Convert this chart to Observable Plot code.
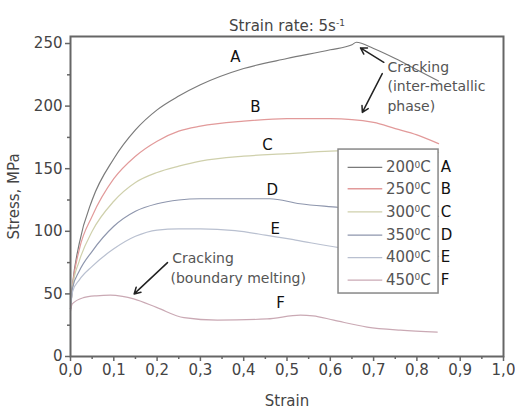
<!DOCTYPE html>
<html><head><meta charset="utf-8">
<script src="https://cdn.jsdelivr.net/npm/d3@7"></script>
<script src="https://cdn.jsdelivr.net/npm/@observablehq/plot@0.6"></script>
<style>body{margin:0;background:#fff} #chart svg{font-family:"DejaVu Sans",sans-serif}</style>
</head><body><div id="chart"></div>
<script>
// Series
const series = ["A", "B", "C", "D", "E", "F"];
const temps = ["200⁰C", "250⁰C", "300⁰C", "350⁰C", "400⁰C", "450⁰C"];
const colors = ["#7a7a7a", "#e29a9a", "#cfd0ac", "#8e96ad", "#b9c0d0", "#caa9b4"];

// Curve values (strain, stress MPa)
const strainA = [0, 0.005, 0.02, 0.05, 0.1, 0.15, 0.2, 0.25, 0.3, 0.4, 0.5, 0.6, 0.65, 0.66, 0.7, 0.75, 0.8, 0.85];
const stressA = [38, 58, 90, 125, 158, 181, 197, 208, 217, 230, 238, 245, 249, 251, 246, 238, 229, 220];
const strainB = [0, 0.005, 0.02, 0.05, 0.1, 0.15, 0.2, 0.25, 0.3, 0.4, 0.5, 0.6, 0.7, 0.75, 0.8, 0.85];
const stressB = [38, 57, 85, 112, 142, 160, 172, 180, 184, 188, 190, 190, 187, 182, 177, 170];
const strainC = [0, 0.005, 0.02, 0.05, 0.1, 0.15, 0.2, 0.25, 0.3, 0.4, 0.5, 0.6, 0.7, 0.8, 0.85];
const stressC = [38, 56, 76, 100, 124, 139, 147, 152, 156, 160, 162, 164, 165, 164, 163];
const strainD = [0, 0.005, 0.02, 0.05, 0.1, 0.15, 0.2, 0.25, 0.3, 0.4, 0.46, 0.53, 0.62, 0.7, 0.85];
const stressD = [38, 55, 68, 84, 104, 116, 122, 125, 126, 126, 126, 122, 119, 116, 112];
const strainE = [0, 0.005, 0.02, 0.05, 0.1, 0.15, 0.2, 0.25, 0.3, 0.38, 0.45, 0.52, 0.62, 0.7, 0.85];
const stressE = [38, 52, 61, 72, 86, 96, 101, 102, 102, 100.5, 97, 93, 87, 84, 80];
const strainF = [0, 0.004, 0.03, 0.06, 0.092, 0.12, 0.146, 0.2, 0.262, 0.339, 0.454, 0.531, 0.56, 0.608, 0.685, 0.762, 0.847];
const stressF = [36, 42, 47, 48.5, 49, 48, 46, 39, 31, 29, 30, 33, 32.5, 29, 23.5, 21, 19.5];

// Ticks
const majorX = [0, 0.1, 0.2, 0.3, 0.4, 0.5, 0.6, 0.7, 0.8, 0.9, 1.0];
const minorX = [0.05, 0.15, 0.25, 0.35, 0.45, 0.55, 0.65, 0.75, 0.85, 0.95];
const majorY = [0, 50, 100, 150, 200, 250];
const minorY = [25, 75, 125, 175, 225];

// Annotations (data coordinates)
const curveLabelX = [0.381, 0.427, 0.455, 0.466, 0.473, 0.485];
const curveLabelY = [239, 199, 168.5, 132.6, 101.4, 42.3];
const legendRowY = [151, 134, 115.5, 97, 79, 61];
const legendBox = {x1: 0.619, x2: 0.85, y1: 50.3, y2: 165.3};
const crack1Text = ["Cracking", "(inter-metallic", "phase)"];
const crack1Y = [231, 216, 199.5];
const crack2Text = ["Cracking", "(boundary melting)"];
const crack2X = [0.235, 0.231];
const crack2Y = [78, 62.3];
const arrows = [
  {x1: 0.7236, y1: 235, x2: 0.6697, y2: 246.5},
  {x1: 0.72, y1: 226, x2: 0.674, y2: 195},
  {x1: 0.224, y1: 75, x2: 0.147, y2: 50}
];
const titleText = "Strain rate: 5s⁻¹";

const strains = [strainA, strainB, strainC, strainD, strainE, strainF];
const stresses = [stressA, stressB, stressC, stressD, stressE, stressF];
const rows = [];
series.forEach((s, i) => strains[i].forEach((x, j) => rows.push({series: s, strain: x, stress: stresses[i][j]})));
const legendRows = series.map((s, i) => ({series: s, temp: temps[i], y: legendRowY[i]}));
const curveLabels = series.map((s, i) => ({s, x: curveLabelX[i], y: curveLabelY[i]}));

const fmt = d => d.toFixed(1).replace(".", ",");
const axisColor = "#666";

const chart = Plot.plot({
  width: 515, height: 409,
  marginLeft: 70, marginRight: 12, marginTop: 36, marginBottom: 53,
  style: {fontFamily: "DejaVu Sans", fontSize: "15px", color: "#444", background: "#fff"},
  x: {domain: [0, 1]},
  y: {domain: [0, 255.6]},
  color: {domain: series, range: colors},
  marks: [
    Plot.axisX(minorX, {tickSize: 3, tickFormat: () => "", label: null, stroke: axisColor, strokeWidth: 1.5}),
    Plot.axisX(majorX, {tickSize: 5, tickPadding: 3, tickFormat: fmt, stroke: axisColor, strokeWidth: 1.5, fill: "#444", fontSize: 15,
      label: "Strain", labelAnchor: "center", labelOffset: 49, labelArrow: "none"}),
    Plot.axisY(minorY, {tickSize: 3, tickFormat: () => "", label: null, stroke: axisColor, strokeWidth: 1.5}),
    Plot.axisY(majorY, {tickSize: 5, tickPadding: 3, stroke: axisColor, strokeWidth: 1.5, fill: "#444", fontSize: 15,
      label: "Stress, MPa", labelAnchor: "center", labelOffset: 62, labelArrow: "none"}),
    Plot.line(rows, {x: "strain", y: "stress", z: "series", stroke: "series", strokeWidth: 1.2, curve: "monotone-x"}),
    Plot.rect([legendBox], {x1: "x1", x2: "x2", y1: "y1", y2: "y2", fill: "white", stroke: "#888", strokeWidth: 1.5}),
    Plot.link(legendRows, {x1: 0.64, x2: 0.72, y1: "y", y2: "y", stroke: "series", strokeWidth: 1.3}),
    Plot.text(legendRows, {x: 0.832, y: "y", text: "temp", textAnchor: "end", fill: "#555", fontSize: 15}),
    Plot.text(legendRows, {x: 0.855, y: "y", text: "series", textAnchor: "start", fill: "#111", fontSize: 15}),
    Plot.text(curveLabels, {x: "x", y: "y", text: "s", fill: "#111", fontSize: 15}),
    Plot.text(crack1Text, {x: 0.732, y: (d, i) => crack1Y[i], text: d => d, textAnchor: "start", fill: "#555", fontSize: 14}),
    Plot.text(crack2Text, {x: (d, i) => crack2X[i], y: (d, i) => crack2Y[i], text: d => d, textAnchor: "start", fill: "#555", fontSize: 14}),
    Plot.arrow(arrows, {x1: "x1", y1: "y1", x2: "x2", y2: "y2", stroke: "#222", strokeWidth: 1.5, headLength: 7}),
    Plot.text([titleText], {frameAnchor: "top", dy: -6, lineAnchor: "bottom", fill: "#444", fontSize: 15}),
    Plot.frame({stroke: axisColor, strokeWidth: 2})
  ]
});

// Render superscripts as raised small text
const supMap = {"⁰": "0", "⁻¹": "-1"};
chart.querySelectorAll("text").forEach(t => {
  const s = t.textContent;
  const key = Object.keys(supMap).find(k => s.includes(k));
  if (!key) return;
  const [before, after] = s.split(key);
  t.textContent = "";
  const ns = "http://www.w3.org/2000/svg";
  const a = document.createElementNS(ns, "tspan"); a.textContent = before; t.appendChild(a);
  const b = document.createElementNS(ns, "tspan"); b.textContent = supMap[key];
  b.setAttribute("dy", "-0.5em"); b.setAttribute("font-size", "0.6em"); t.appendChild(b);
  if (after) {
    const c = document.createElementNS(ns, "tspan"); c.textContent = after;
    c.setAttribute("dy", "0.3em"); t.appendChild(c);
  }
});
document.getElementById("chart").appendChild(chart);
</script>
</body></html>
